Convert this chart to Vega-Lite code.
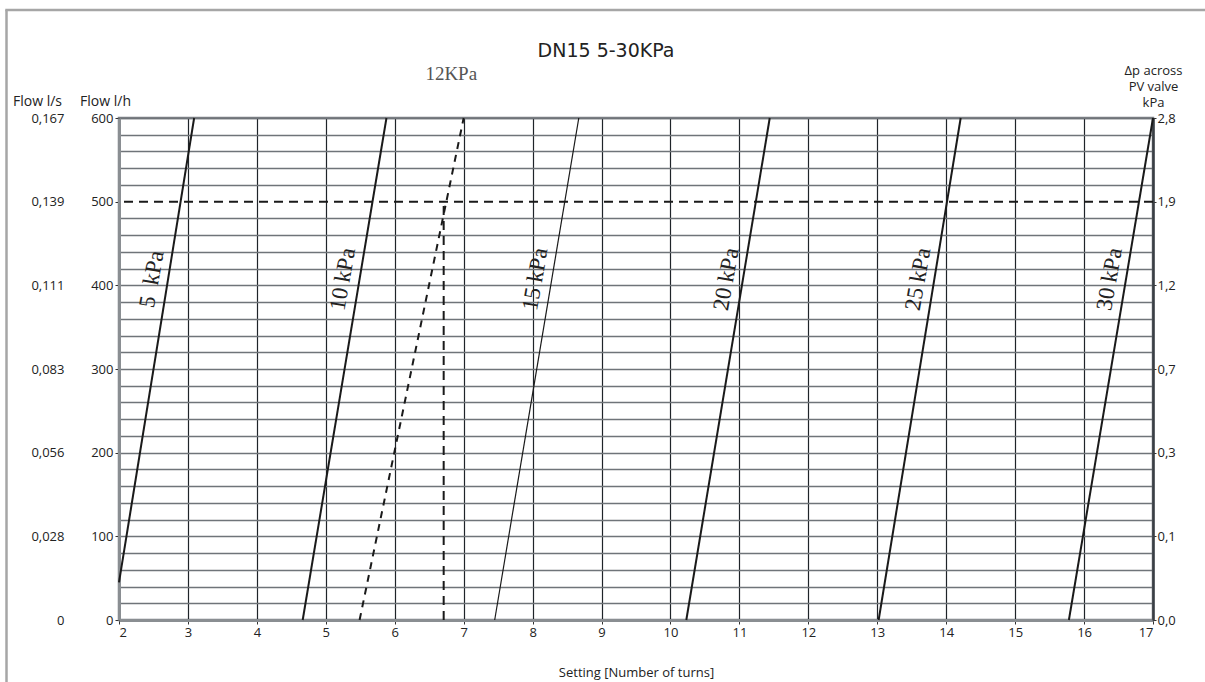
{
  "$schema": "https://vega.github.io/schema/vega-lite/v6.json",
  "width": 1034,
  "height": 502,
  "autosize": {"type": "none"},
  "padding": {"left": 119, "top": 118, "right": 52, "bottom": 62},
  "background": "white",
  "data": {"values": [{}]},
  "config": {
    "view": {"stroke": "#7d8186", "strokeWidth": 2.5},
    "axis": {"labelFont": "Open Sans", "labelFontSize": 13, "labelColor": "#222222", "titleFont": "Open Sans", "titleFontSize": 14, "titleFontWeight": "normal", "titleColor": "#222222"}
  },
  "datasets": {
    "curves": [
      {"series": "5 kPa", "turns": 2.0, "flow": 45},
      {"series": "5 kPa", "turns": 3.09, "flow": 600},
      {"series": "10 kPa", "turns": 4.665, "flow": 0},
      {"series": "10 kPa", "turns": 5.88, "flow": 600},
      {"series": "15 kPa", "turns": 7.45, "flow": 0},
      {"series": "15 kPa", "turns": 8.67, "flow": 600},
      {"series": "20 kPa", "turns": 10.23, "flow": 0},
      {"series": "20 kPa", "turns": 11.44, "flow": 600},
      {"series": "25 kPa", "turns": 13.02, "flow": 0},
      {"series": "25 kPa", "turns": 14.21, "flow": 600},
      {"series": "30 kPa", "turns": 15.78, "flow": 0},
      {"series": "30 kPa", "turns": 17.0, "flow": 600}
    ],
    "dashed": [
      {"series": "12 kPa", "turns": 5.49, "flow": 0},
      {"series": "12 kPa", "turns": 7.0, "flow": 600}
    ],
    "labels": [
      {"series": "5\u00a0\u00a0kPa", "turns": 2.705, "flow": 404},
      {"series": "10 kPa", "turns": 5.475, "flow": 404},
      {"series": "15 kPa", "turns": 8.267, "flow": 404},
      {"series": "20 kPa", "turns": 11.04, "flow": 404},
      {"series": "25 kPa", "turns": 13.82, "flow": 404},
      {"series": "30 kPa", "turns": 16.6, "flow": 404}
    ]
  },
  "resolve": {"axis": {"x": "independent", "y": "independent"}},
  "layer": [
    {
      "data": {"name": "curves"},
      "mark": {"type": "line", "color": "#1a1a1a"},
      "encoding": {
        "x": {"field": "turns", "type": "quantitative",
          "scale": {"domain": [2, 17], "nice": false, "zero": false},
          "axis": {"values": [2,3,4,5,6,7,8,9,10,11,12,13,14,15,16,17], "title": "Setting [Number of turns]", "titleFontSize": 13, "titleY": 56, "titleBaseline": "alphabetic",
            "grid": true, "gridColor": "#1f2429", "gridWidth": 1.2, "domainColor": "#8a8e92", "domainWidth": 3, "tickSize": 4, "tickColor": "#333333", "labelPadding": 2}},
        "y": {"field": "flow", "type": "quantitative",
          "scale": {"domain": [0, 600], "nice": false, "zero": true},
          "axis": {"orient": "left", "values": [0,20,40,60,80,100,120,140,160,180,200,220,240,260,280,300,320,340,360,380,400,420,440,460,480,500,520,540,560,580,600],
            "labelExpr": "datum.value % 100 === 0 ? datum.label : ''",
            "tickOpacity": {"condition": {"test": "datum.value % 100 === 0", "value": 1}, "value": 0},
            "gridColor": {"condition": {"test": "datum.value === 500", "value": "transparent"}, "value": "#6f7479"},
            "tickSize": 4, "tickColor": "#333333", "labelPadding": 2,
            "grid": true, "gridWidth": 1.5, "domainColor": "#8a8e92", "domainWidth": 3,
            "title": "Flow l/h", "titleAngle": 0, "titleAlign": "center", "titleBaseline": "alphabetic", "titleX": -14, "titleY": -13}},
        "detail": {"field": "series"},
        "strokeWidth": {"condition": {"test": "datum.series === '15 kPa'", "value": 1.2}, "value": 2}
      }
    },
    {
      "mark": {"type": "rule", "color": "#1a1a1a", "strokeWidth": 2, "strokeDash": [9, 6]},
      "encoding": {
        "y": {"datum": 500, "type": "quantitative",
          "axis": {"orient": "left", "values": [0,100,200,300,400,500,600],
            "labelExpr": "['0','0,028','0,056','0,083','0,111','0,139','0,167'][round(datum.value/100)]",
            "grid": false, "domain": false, "tickSize": 0, "tickOpacity": 0, "labelPadding": 55,
            "title": "Flow l/s", "titleAngle": 0, "titleAlign": "center", "titleBaseline": "alphabetic", "titleX": -82, "titleY": -13}}
      }
    },
    {
      "mark": {"type": "rule", "color": "#1a1a1a", "strokeWidth": 2, "strokeDash": [9, 6]},
      "encoding": {
        "x": {"datum": 6.71, "type": "quantitative", "axis": null},
        "y": {"datum": 0, "type": "quantitative",
          "axis": {"orient": "right", "values": [0,100,200,300,400,500,600],
            "labelExpr": "['0,0','0,1','0,3','0,7','1,2','1,9','2,8'][round(datum.value/100)]",
            "grid": false, "domainColor": "#3a3f45", "domainWidth": 2.5, "tickSize": 3, "tickColor": "#333333", "labelPadding": 1,
            "title": ["Δp across", "PV valve", "kPa"], "titleFontSize": 13, "titleAngle": 0, "titleAlign": "center", "titleBaseline": "alphabetic", "titleX": 0, "titleY": -44, "titleLineHeight": 16}},
        "y2": {"datum": 500}
      }
    },
    {
      "data": {"name": "dashed"},
      "mark": {"type": "line", "color": "#1a1a1a", "strokeWidth": 2, "strokeDash": [7, 6]},
      "encoding": {
        "x": {"field": "turns", "type": "quantitative", "axis": null},
        "y": {"field": "flow", "type": "quantitative", "axis": null}
      }
    },
    {
      "data": {"name": "labels"},
      "mark": {"type": "text", "font": "Liberation Serif", "fontSize": 23, "angle": 280, "dy": -16, "align": "center", "baseline": "middle", "color": "#222222"},
      "encoding": {
        "x": {"field": "turns", "type": "quantitative", "axis": null},
        "y": {"field": "flow", "type": "quantitative", "axis": null},
        "text": {"field": "series"}
      }
    },
    {
      "mark": {"type": "text", "text": "12KPa", "font": "Liberation Serif", "fontSize": 19, "align": "center", "baseline": "alphabetic", "color": "#555555"},
      "encoding": {
        "x": {"datum": 6.82, "type": "quantitative", "axis": null},
        "y": {"datum": 645, "type": "quantitative", "axis": null}
      }
    },
    {
      "mark": {"type": "text", "text": "DN15 5-30KPa", "font": "DejaVu Sans", "fontSize": 19, "align": "center", "baseline": "alphabetic", "color": "#222222"},
      "encoding": {
        "x": {"datum": 9.065, "type": "quantitative", "axis": null},
        "y": {"datum": 673, "type": "quantitative", "axis": null}
      }
    },
    {
      "mark": {"type": "rule", "color": "#a6a6a6", "strokeWidth": 2.5},
      "encoding": {
        "x": {"datum": 0.368, "type": "quantitative", "axis": null},
        "y": {"datum": -80, "type": "quantitative", "axis": null},
        "y2": {"datum": 729.1}
      }
    },
    {
      "mark": {"type": "rule", "color": "#a6a6a6", "strokeWidth": 2.5},
      "encoding": {
        "x": {"datum": 0.35, "type": "quantitative", "axis": null},
        "x2": {"datum": 17.8},
        "y": {"datum": 729.1, "type": "quantitative", "axis": null}
      }
    }
  ]
}
